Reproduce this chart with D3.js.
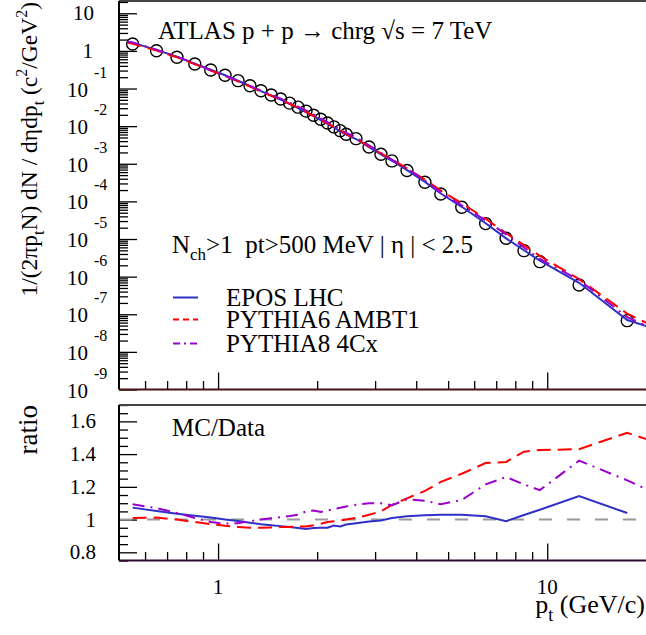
<!DOCTYPE html>
<html><head><meta charset="utf-8">
<script src="https://cdn.jsdelivr.net/npm/d3@7"></script>
<style>
body{margin:0;background:#fff}
svg{display:block}
text{font-family:"Liberation Serif","Times New Roman",serif;fill:#000;white-space:pre}
</style>
</head><body>
<svg id="c" width="646" height="635"></svg>
<script>
// ---- data ----
const pt = [0.55,0.65,0.75,0.85,0.95,1.05,1.15,1.25,1.35,1.45,1.55,1.65,1.75,1.85,1.95,2.05,2.15,2.25,2.35,2.45,
            2.625,2.875,3.125,3.375,3.75,4.25,4.75,5.5,6.5,7.5,8.5,9.5,12.5,17.5];
const dataVal = [1.53,1.01,0.676,0.449,0.311,0.225,0.162,0.119,0.0875,0.0675,0.0527,0.0409,0.032,0.0251,0.0195,0.0153,0.0121,0.00955,0.00759,0.0061,
            0.00465,0.00279,0.00179,0.00119,6.64e-4,3.22e-4,1.57e-4,6.98e-5,2.57e-5,1.05e-5,4.9e-6,2.5e-6,6.0e-7,6.76e-8];
const ratioEPOS = [1.073,1.052,1.036,1.024,1.012,1.001,0.991,0.981,0.972,0.966,0.960,0.954,0.948,0.942,0.948,0.950,0.950,0.964,0.958,0.970,
            0.978,0.988,0.995,1.010,1.020,1.026,1.030,1.030,1.020,0.990,1.028,1.060,1.143,1.040];
const ratioPY6 = [1.010,1.012,1.000,0.985,0.972,0.962,0.955,0.950,0.950,0.952,0.954,0.955,0.957,0.958,0.965,0.975,0.985,0.990,0.995,1.000,
            1.010,1.030,1.050,1.090,1.130,1.175,1.230,1.280,1.345,1.352,1.415,1.425,1.430,1.530];
const ratioPY8 = [1.094,1.070,1.040,1.010,0.985,0.975,0.978,0.990,1.000,1.008,1.015,1.022,1.030,1.050,1.055,1.046,1.055,1.065,1.072,1.080,
            1.090,1.100,1.100,1.087,1.125,1.115,1.094,1.120,1.215,1.260,1.215,1.180,1.360,1.240];
// curve ends at the frame edges
const headPt = 0.53;
const headTop = [1.75, 1.66, 1.78];             // EPOS, PYTHIA6, PYTHIA8 (spectrum, left start)
const tailPt = 20.1;
const tailTop = [4.8e-8, 5.8e-8, 4.9e-8];       // spectrum at right edge
const tailRatio = [null, 1.49, 1.184];          // EPOS ratio stops at last data bin
const seriesNames = ["EPOS LHC","PYTHIA6 AMBT1","PYTHIA8 4Cx"];
const seriesColors = ["#3030c8","#ff0000","#9b00cc"];
const seriesDash = [null,"14,7","12,6,2,6"];
const legendDash = [null,"6,4","7,4,2,4"];
const yMajorExp = [1,0,-1,-2,-3,-4,-5,-6,-7,-8,-9];
const xMajor = [1,10];
const xMinor = [0.6,0.7,0.8,0.9,2,3,4,5,6,7,8,9,20];
const rMajor = [0.8,1.0,1.2,1.4,1.6];
const rLabels = ["0.8","1","1.2","1.4","1.6"];

// ---- layout ----
const svg = d3.select("#c");
const X0 = 119, X1 = 647;
const T0 = 1, T1 = 389.5;     // top panel
const B0 = 405, B1 = 560.5;   // ratio panel
const x = d3.scaleLog().domain([0.5, 20.1]).range([X0, X1]);
const y = d3.scaleLog().domain([1e-9, 21.2]).range([T1, T0]);
const yr = d3.scaleLinear().domain([0.75, 1.7]).range([B1, B0]);

const defs = svg.append("defs");
defs.append("clipPath").attr("id","clipT").append("rect").attr("x",X0).attr("y",T0).attr("width",X1-X0).attr("height",T1-T0);
defs.append("clipPath").attr("id","clipB").append("rect").attr("x",X0).attr("y",B0).attr("width",X1-X0).attr("height",B1-B0);

// ---- build series tables ----
const ratios = [ratioEPOS, ratioPY6, ratioPY8];
const topSeries = ratios.map((r,i) => [[headPt, headTop[i]]].concat(pt.map((p,j) => [p, dataVal[j]*r[j]])).concat([[tailPt, tailTop[i]]]));
const ratioSeries = ratios.map((r,i) => {
  const s = pt.map((p,j) => [p, r[j]]);
  if (tailRatio[i] != null) s.push([tailPt, tailRatio[i]]);
  return s;
});

// ---- axes helpers ----
function yMinorVals(){
  const v=[];
  for (let e=-9;e<=1;e++) for (let k=2;k<=9;k++){ const val=k*Math.pow(10,e); if(val<=21.2) v.push(val);} 
  return v;
}
function styleAxis(g){ g.select(".domain").remove(); g.selectAll("line").attr("stroke","#000").attr("stroke-width",1.3); g.selectAll("text").remove(); }

// top panel axes
svg.append("g").attr("transform",`translate(0,${T1})`)
  .call(d3.axisBottom(x).tickValues(xMajor).tickSize(-17).tickSizeOuter(0)).call(styleAxis);
svg.append("g").attr("transform",`translate(0,${T1})`)
  .call(d3.axisBottom(x).tickValues(xMinor).tickSize(-8.5).tickSizeOuter(0)).call(styleAxis);
svg.append("g").attr("transform",`translate(${X0},0)`)
  .call(d3.axisLeft(y).tickValues(yMajorExp.map(e=>Math.pow(10,e))).tickSize(-18).tickSizeOuter(0)).call(styleAxis);
svg.append("g").attr("transform",`translate(${X0},0)`)
  .call(d3.axisLeft(y).tickValues(yMinorVals()).tickSize(-9).tickSizeOuter(0)).call(styleAxis);

// ratio panel axes
svg.append("g").attr("transform",`translate(0,${B1})`)
  .call(d3.axisBottom(x).tickValues(xMajor).tickSize(-17).tickSizeOuter(0)).call(styleAxis);
svg.append("g").attr("transform",`translate(0,${B1})`)
  .call(d3.axisBottom(x).tickValues(xMinor).tickSize(-8.5).tickSizeOuter(0)).call(styleAxis);
svg.append("g").attr("transform",`translate(${X0},0)`)
  .call(d3.axisLeft(yr).tickValues(rMajor).tickSize(-18).tickSizeOuter(0)).call(styleAxis);
svg.append("g").attr("transform",`translate(${X0},0)`)
  .call(d3.axisLeft(yr).tickValues(d3.range(0.75,1.701,0.05).filter(v=>!rMajor.some(m=>Math.abs(m-v)<1e-6))).tickSize(-9).tickSizeOuter(0)).call(styleAxis);

// frames
function frame(t,b,bottomColor){
  svg.append("line").attr("x1",X0).attr("x2",X1).attr("y1",t).attr("y2",t).attr("stroke","#444").attr("stroke-width",2);
  svg.append("line").attr("x1",X0).attr("x2",X0).attr("y1",t).attr("y2",b).attr("stroke","#000").attr("stroke-width",2);
  svg.append("line").attr("x1",X0).attr("x2",X1).attr("y1",b).attr("y2",b).attr("stroke",bottomColor).attr("stroke-width",2);
}

// ---- top panel content ----
const line = d3.line().x(d=>x(d[0])).y(d=>y(d[1]));
const gT = svg.append("g").attr("clip-path","url(#clipT)");
gT.selectAll("circle").data(pt.map((p,j)=>[p,dataVal[j]])).join("circle")
  .attr("cx",d=>x(d[0])).attr("cy",d=>y(d[1])).attr("r",6)
  .attr("fill","none").attr("stroke","#000").attr("stroke-width",1.4);
topSeries.forEach((s,i)=>{
  gT.append("path").attr("d",line(s)).attr("fill","none")
    .attr("stroke",seriesColors[i]).attr("stroke-width",2)
    .attr("stroke-dasharray",seriesDash[i]);
});

// ---- ratio panel content ----
const rline = d3.line().x(d=>x(d[0])).y(d=>yr(d[1]));
const gB = svg.append("g").attr("clip-path","url(#clipB)");
gB.append("path").attr("d",rline([[0.5,1],[20.1,1]])).attr("stroke","#999").attr("stroke-width",2)
  .attr("stroke-dasharray","13,15").attr("fill","none");
ratioSeries.forEach((s,i)=>{
  gB.append("path").attr("d",rline(s)).attr("fill","none")
    .attr("stroke",seriesColors[i]).attr("stroke-width",2)
    .attr("stroke-dasharray",seriesDash[i]);
});

frame(T0,T1,"#4a1010");
frame(B0,B1,"#2e0a2e");

// ---- tick labels ----
const FS = 21;
yMajorExp.forEach(e=>{
  const yy = y(Math.pow(10,e));
  if (e===0){
    svg.append("text").attr("x",93).attr("y",yy+7).attr("text-anchor","end").attr("font-size",FS).text("1");
  } else if (e===1){
    svg.append("text").attr("x",94).attr("y",yy+7).attr("text-anchor","end").attr("font-size",FS).text("10");
  } else {
    svg.append("text").attr("x",88).attr("y",yy+8).attr("text-anchor","end").attr("font-size",FS).text("10");
    svg.append("text").attr("x",94).attr("y",yy-11).attr("text-anchor","start").attr("font-size",16).text(String(e));
  }
});
rMajor.forEach((v,i)=>{
  svg.append("text").attr("x",96).attr("y",yr(v)+7).attr("text-anchor","end").attr("font-size",FS).text(rLabels[i]);
});
xMajor.forEach(v=>{
  svg.append("text").attr("x",x(v)).attr("y",594).attr("text-anchor","middle").attr("font-size",FS).text(String(v));
});

// ---- titles ----
const xt = svg.append("text").attr("x",645).attr("y",613).attr("text-anchor","end").attr("font-size",26);
xt.append("tspan").text("p");
xt.append("tspan").attr("dy",8).attr("font-size",18).text("t");
xt.append("tspan").attr("dy",-8).text(" (GeV/c)");

const yt = svg.append("text").attr("transform","translate(37,2) rotate(-90)").attr("text-anchor","end").attr("font-size",23.5);
yt.append("tspan").text("1/(2πp");
yt.append("tspan").attr("dy",7).attr("font-size",16).text("t");
yt.append("tspan").attr("dy",-7).text("N) dN / dηdp");
yt.append("tspan").attr("dy",7).attr("font-size",16).text("t");
yt.append("tspan").attr("dy",-7).text(" (c");
yt.append("tspan").attr("dy",-10).attr("font-size",16).text("2");
yt.append("tspan").attr("dy",10).text("/GeV");
yt.append("tspan").attr("dy",-10).attr("font-size",16).text("2");
yt.append("tspan").attr("dy",10).text(")");

svg.append("text").attr("transform","translate(37,405) rotate(-90)").attr("text-anchor","end").attr("font-size",27).text("ratio");

svg.append("text").attr("x",158).attr("y",39).attr("font-size",25).text("ATLAS p + p → chrg √s = 7 TeV");
const nt = svg.append("text").attr("x",172).attr("y",253).attr("font-size",25);
nt.append("tspan").text("N");
nt.append("tspan").attr("dy",7).attr("font-size",17).text("ch");
nt.append("tspan").attr("dy",-7).text(">1  pt>500 MeV | η | < 2.5");
svg.append("text").attr("x",172).attr("y",436).attr("font-size",25).text("MC/Data");

// ---- legend ----
const legY = [297.5,319.5,343.5];
seriesNames.forEach((n,i)=>{
  svg.append("line").attr("x1",173).attr("x2",198).attr("y1",legY[i]).attr("y2",legY[i])
    .attr("stroke",seriesColors[i]).attr("stroke-width",2).attr("stroke-dasharray",legendDash[i]);
  svg.append("text").attr("x",226).attr("y",legY[i]+8).attr("font-size",25).text(n);
});
</script>
</body></html>
